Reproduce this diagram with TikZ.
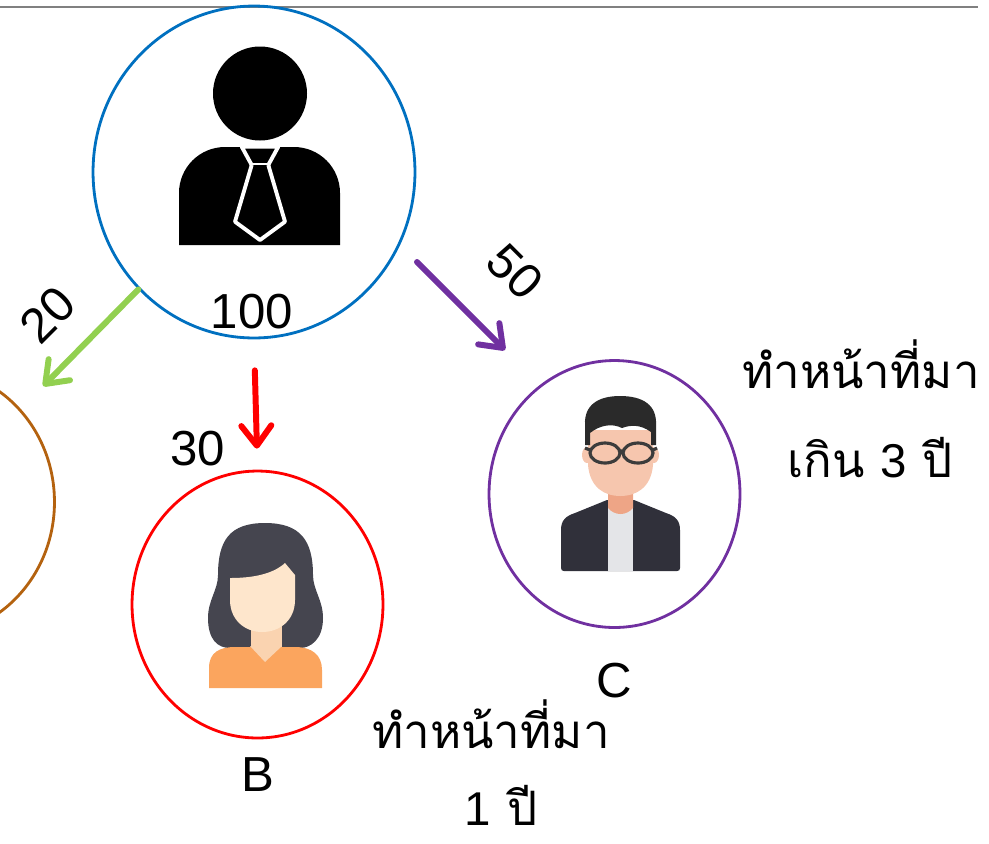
\documentclass[tikz,border=0pt]{standalone}
\usepackage{fontspec}
\setmainfont{Liberation Sans}
\newfontfamily\thaifont[Script=Thai]{Loma}
\usepackage{tikz}
\usetikzlibrary{shapes.geometric, arrows.meta, positioning}

\definecolor{bossblue}{HTML}{0070C0}
\definecolor{linkgreen}{HTML}{92D050}
\definecolor{linkpurple}{HTML}{7030A0}
\definecolor{staffbrown}{HTML}{B4620F}
\definecolor{hairwoman}{HTML}{45454F}
\definecolor{skinwoman}{HTML}{FEE6CC}
\definecolor{neckwoman}{HTML}{FAD3B0}
\definecolor{topwoman}{HTML}{FBA55E}
\definecolor{hairman}{HTML}{2A2A2A}
\definecolor{skinman}{HTML}{F6C6AE}
\definecolor{neckman}{HTML}{EEA586}
\definecolor{jacketman}{HTML}{30303A}
\definecolor{shirtman}{HTML}{E4E5E8}
\definecolor{framegray}{HTML}{3C3C3C}

\tikzstyle{person} = [ellipse, draw, line width=1.6pt, minimum width=5.02cm,
 minimum height=5.34cm, inner sep=0pt]
\tikzstyle{share} = [line width=3.4pt, line cap=round,
 -{Straight Barb[length=0.4cm, width=0.6cm, round]}]
\tikzstyle{amount} = [font=\fontsize{28}{34}\selectfont, inner sep=0pt]
\tikzstyle{tenure} = [font=\fontsize{27}{34}\selectfont\thaifont, inner sep=0pt, anchor=base]

\begin{document}
\begin{tikzpicture}[x=0.02cm, y=-0.02cm]
\useasboundingbox (0,0) rectangle (989,843);
\draw[gray, line width=1.2pt] (0,7) -- (978,7);

% the owner and the three staff members
\node(boss) [person, draw=bossblue, minimum width=6.44cm, minimum height=6.64cm] at (254,172) {};
\node(a) [person, draw=staffbrown] at (-71,502) {};
\node(b) [person, draw=red] at (257.5,604.5) {};
\node(c) [person, draw=linkpurple] at (614.5,494) {};

% owner icon
\fill[black] (260,93.5) circle [radius=47];
\fill[black] (179,245) -- (179,193) arc[start angle=180, end angle=270, radius=46]
 -- (294,147) arc[start angle=270, end angle=360, radius=46] -- (340,245) -- cycle;
\draw[white, line width=2.2pt, line join=round, fill=black]
 (241.7,146.7) -- (278.3,146.7) -- (268.3,165) -- (251.7,165) -- cycle;
\draw[white, line width=2.2pt, line join=round, fill=black]
 (251.7,165) -- (235,221.7) -- (260,240) -- (285,221.7) -- (268.3,165);

% icon of B
\fill[hairwoman] (265,523) .. controls (300,523) and (313,540) .. (313,575)
 .. controls (313,590) and (323,600) .. (323,618) .. controls (323,640) and (310,648) .. (300,648)
 -- (230,648) .. controls (218,648) and (208,640) .. (208,618)
 .. controls (208,600) and (218,590) .. (218,575) .. controls (218,540) and (230,523) .. (265,523) -- cycle;
\fill[neckwoman] (251,620) rectangle (282,655);
\fill[skinwoman] (230,578) -- (230,600) .. controls (230,620) and (245,632) .. (262,632)
 .. controls (280,632) and (295,620) .. (295,600) -- (295,575) -- (285,563)
 .. controls (272,575) and (250,578) .. (230,578) -- cycle;
\fill[topwoman] (209,688) -- (209,668) .. controls (209,652) and (220,647) .. (235,647)
 -- (295,647) .. controls (312,647) and (322,655) .. (322,670) -- (322,688) -- cycle;
\fill[neckwoman] (250,646) -- (265,662) -- (282,646) -- cycle;

% icon of C
\fill[jacketman] (561,568) -- (561,530) .. controls (561,520) and (566,516) .. (575,513)
 -- (607,500) -- (634,500) -- (666,513) .. controls (675,516) and (680,520) .. (680,530)
 -- (680,568) .. controls (680,570) and (679,571) .. (677,571) -- (564,571)
 .. controls (562,571) and (561,570) .. (561,568) -- cycle;
\fill[shirtman] (608,505) rectangle (633,571);
\fill[neckman] (608,485) -- (608,508) .. controls (615,516) and (626,516) .. (633,508) -- (633,485) -- cycle;
\fill[skinman] (587,455) ellipse [x radius=5, y radius=8];
\fill[skinman] (654,455) ellipse [x radius=5, y radius=8];
\fill[skinman] (588,430) -- (588,465) .. controls (590,488) and (605,496) .. (620,496)
 .. controls (636,496) and (651,488) .. (653,465) -- (653,430) -- cycle;
\fill[hairman] (585,445) -- (585,425) .. controls (584,405) and (598,396) .. (620,396)
 .. controls (643,396) and (657,405) .. (656,425) -- (656,445) -- (651,445) -- (651,432)
 .. controls (640,424) and (630,425) .. (622,428) .. controls (612,423) and (600,425) .. (590,433)
 -- (590,445) -- cycle;
\draw[framegray, line width=1.8pt] (605,453) ellipse [x radius=15, y radius=10]
 (638,453) ellipse [x radius=15, y radius=10];
\draw[framegray, line width=1.8pt] (620,451) -- (623,451) (590,450) -- (585,448) (653,450) -- (657,448);

% shares
\draw[share, linkgreen, shorten >=0.64cm] (boss) -- (a);
\draw[share, red, shorten <=0.62cm, shorten >=0.42cm] (boss.south) -- (b.north);
\draw[share, linkpurple] ([shift={(163,90)}]boss.center) -- ([shift={(-109.5,-144)}]c.center);

\node(total) [amount] at (252,312) {100};
\node(cut_a) [amount, rotate=45] at (48,315) {20};
\node(cut_b) [amount] at (198,449) {30};
\node(cut_c) [amount, rotate=-45] at (515,272) {50};
\node(name_b) [amount, below=0.35cm of b] {B};
\node(name_c) [amount, below=0.68cm of c] {C};

\node(tenure_c1) [tenure] at (861,388) {ทำหน้าที่มา};
\node(tenure_c2) [tenure] at (870,477) {เกิน \textrm{3} ปี};
\node(tenure_b1) [tenure] at (491,748) {ทำหน้าที่มา};
\node(tenure_b2) [tenure] at (501,825) {\textrm{1} ปี};
\end{tikzpicture}
\end{document}
